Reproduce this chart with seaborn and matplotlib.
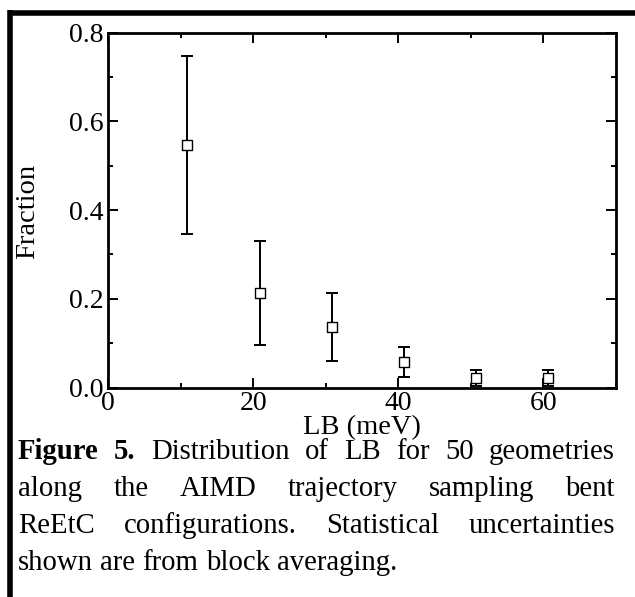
import numpy as np
import pandas as pd
import matplotlib
matplotlib.use("Agg")
import matplotlib.pyplot as plt
import seaborn as sns
from matplotlib.ticker import MultipleLocator, FormatStrFormatter
from matplotlib.lines import Line2D

# ---------------- data ----------------
lb = [10.8, 20.9, 30.8, 40.8, 50.7, 60.6]
fraction = [0.546, 0.213, 0.136, 0.058, 0.021, 0.021]
frac_err = [0.200, 0.118, 0.077, 0.034, 0.018, 0.018]
x_ticks = [0, 20, 40, 60]
y_ticks = [0.0, 0.2, 0.4, 0.6, 0.8]
x_label = "LB (meV)"
y_label = "Fraction"
caption_lines = [
    [("Figure", "bold"), ("5.", "bold"), ("Distribution", "normal"), ("of", "normal"),
     ("LB", "normal"), ("for", "normal"), ("50", "normal"), ("geometries", "normal")],
    [(w, "normal") for w in "along the AIMD trajectory sampling bent".split()],
    [(w, "normal") for w in "ReEtC configurations. Statistical uncertainties".split()],
    [(w, "normal") for w in "shown are from block averaging.".split()],
]
caption_justify = [True, True, True, False]

# ---------------- style ----------------
sns.set_theme(style="ticks")
plt.rcParams["font.family"] = ["Liberation Serif", "DejaVu Serif"]

W, H, DPI = 635, 597, 100
fig = plt.figure(figsize=(W / DPI, H / DPI), dpi=DPI)
fig.patch.set_facecolor("white")

ax_l, ax_r, ax_t, ax_b = 108.3, 616.0, 32.5, 387.5
ax = fig.add_axes([ax_l / W, 1 - ax_b / H, (ax_r - ax_l) / W, (ax_b - ax_t) / H])
ax.set_facecolor("white")

df = pd.DataFrame({"LB": lb, "Fraction": fraction, "err": frac_err})

ax.errorbar(df["LB"], df["Fraction"], yerr=df["err"], fmt="none", ecolor="black",
            elinewidth=1.4, capsize=4.2, capthick=1.4, zorder=2)
sns.scatterplot(data=df, x="LB", y="Fraction", marker="s", s=48, color="white",
                edgecolor="black", linewidth=1.0, ax=ax, zorder=3, legend=False)

ax.set_xlim(0, 70)
ax.set_ylim(0, 0.8)
ax.set_xticks(x_ticks)
ax.set_yticks(y_ticks)
ax.xaxis.set_minor_locator(MultipleLocator(10))
ax.yaxis.set_minor_locator(MultipleLocator(0.1))
ax.yaxis.set_major_formatter(FormatStrFormatter("%.1f"))
ax.set_xlabel("")
ax.set_ylabel("")

ax.tick_params(which="both", direction="in", top=True, right=True, width=1.4,
               color="black", labelcolor="black")
ax.tick_params(which="major", length=7.5, labelsize=20)
ax.tick_params(which="minor", length=3.8)
ax.tick_params(axis="x", which="major", pad=2.8)
ax.tick_params(axis="y", which="major", pad=3.2)
for sp in ax.spines.values():
    sp.set_linewidth(2.0)
    sp.set_color("black")
    sp.set_visible(True)

# axis labels
fig.text(28 / W, 1 - 211 / H, y_label, rotation=90, ha="center", va="center",
         fontsize=20.5, color="black")
fig.text(362 / W, 1 - 428 / H, x_label, ha="center", va="center",
         fontsize=20.5, color="black")

# ---------------- border ----------------
fig.add_artist(Line2D([7.5 / W, 1.0], [1 - 12.5 / H, 1 - 12.5 / H],
                      transform=fig.transFigure, color="black", linewidth=4.0,
                      solid_capstyle="butt"))
fig.add_artist(Line2D([10.0 / W, 10.0 / W], [1 - 10 / H, 0.0],
                      transform=fig.transFigure, color="black", linewidth=4.0,
                      solid_capstyle="butt"))

# ---------------- caption (justified) ----------------
cap_size = 20.7
left_px, right_px = 18.0, 615.0
baselines = [459, 496, 533, 570]
fig.canvas.draw()
renderer = fig.canvas.get_renderer()
space_txt = fig.text(0, 0, "a a", fontsize=cap_size)
aa = fig.text(0, 0, "aa", fontsize=cap_size)
space_w = space_txt.get_window_extent(renderer).width - aa.get_window_extent(renderer).width
space_txt.remove()
aa.remove()

for words, just, base in zip(caption_lines, caption_justify, baselines):
    texts = []
    widths = []
    for w, weight in words:
        t = fig.text(0, 1 - base / H, w, fontsize=cap_size, fontweight=weight,
                     ha="left", va="baseline", color="black")
        texts.append(t)
        widths.append(t.get_window_extent(renderer).width)
    if just and len(words) > 1:
        gap = (right_px - left_px - sum(widths)) / (len(words) - 1)
    else:
        gap = space_w
    x = left_px
    for t, wd in zip(texts, widths):
        t.set_x(x / W)
        x += wd + gap

fig.savefig("out.png", dpi=DPI, facecolor="white")
